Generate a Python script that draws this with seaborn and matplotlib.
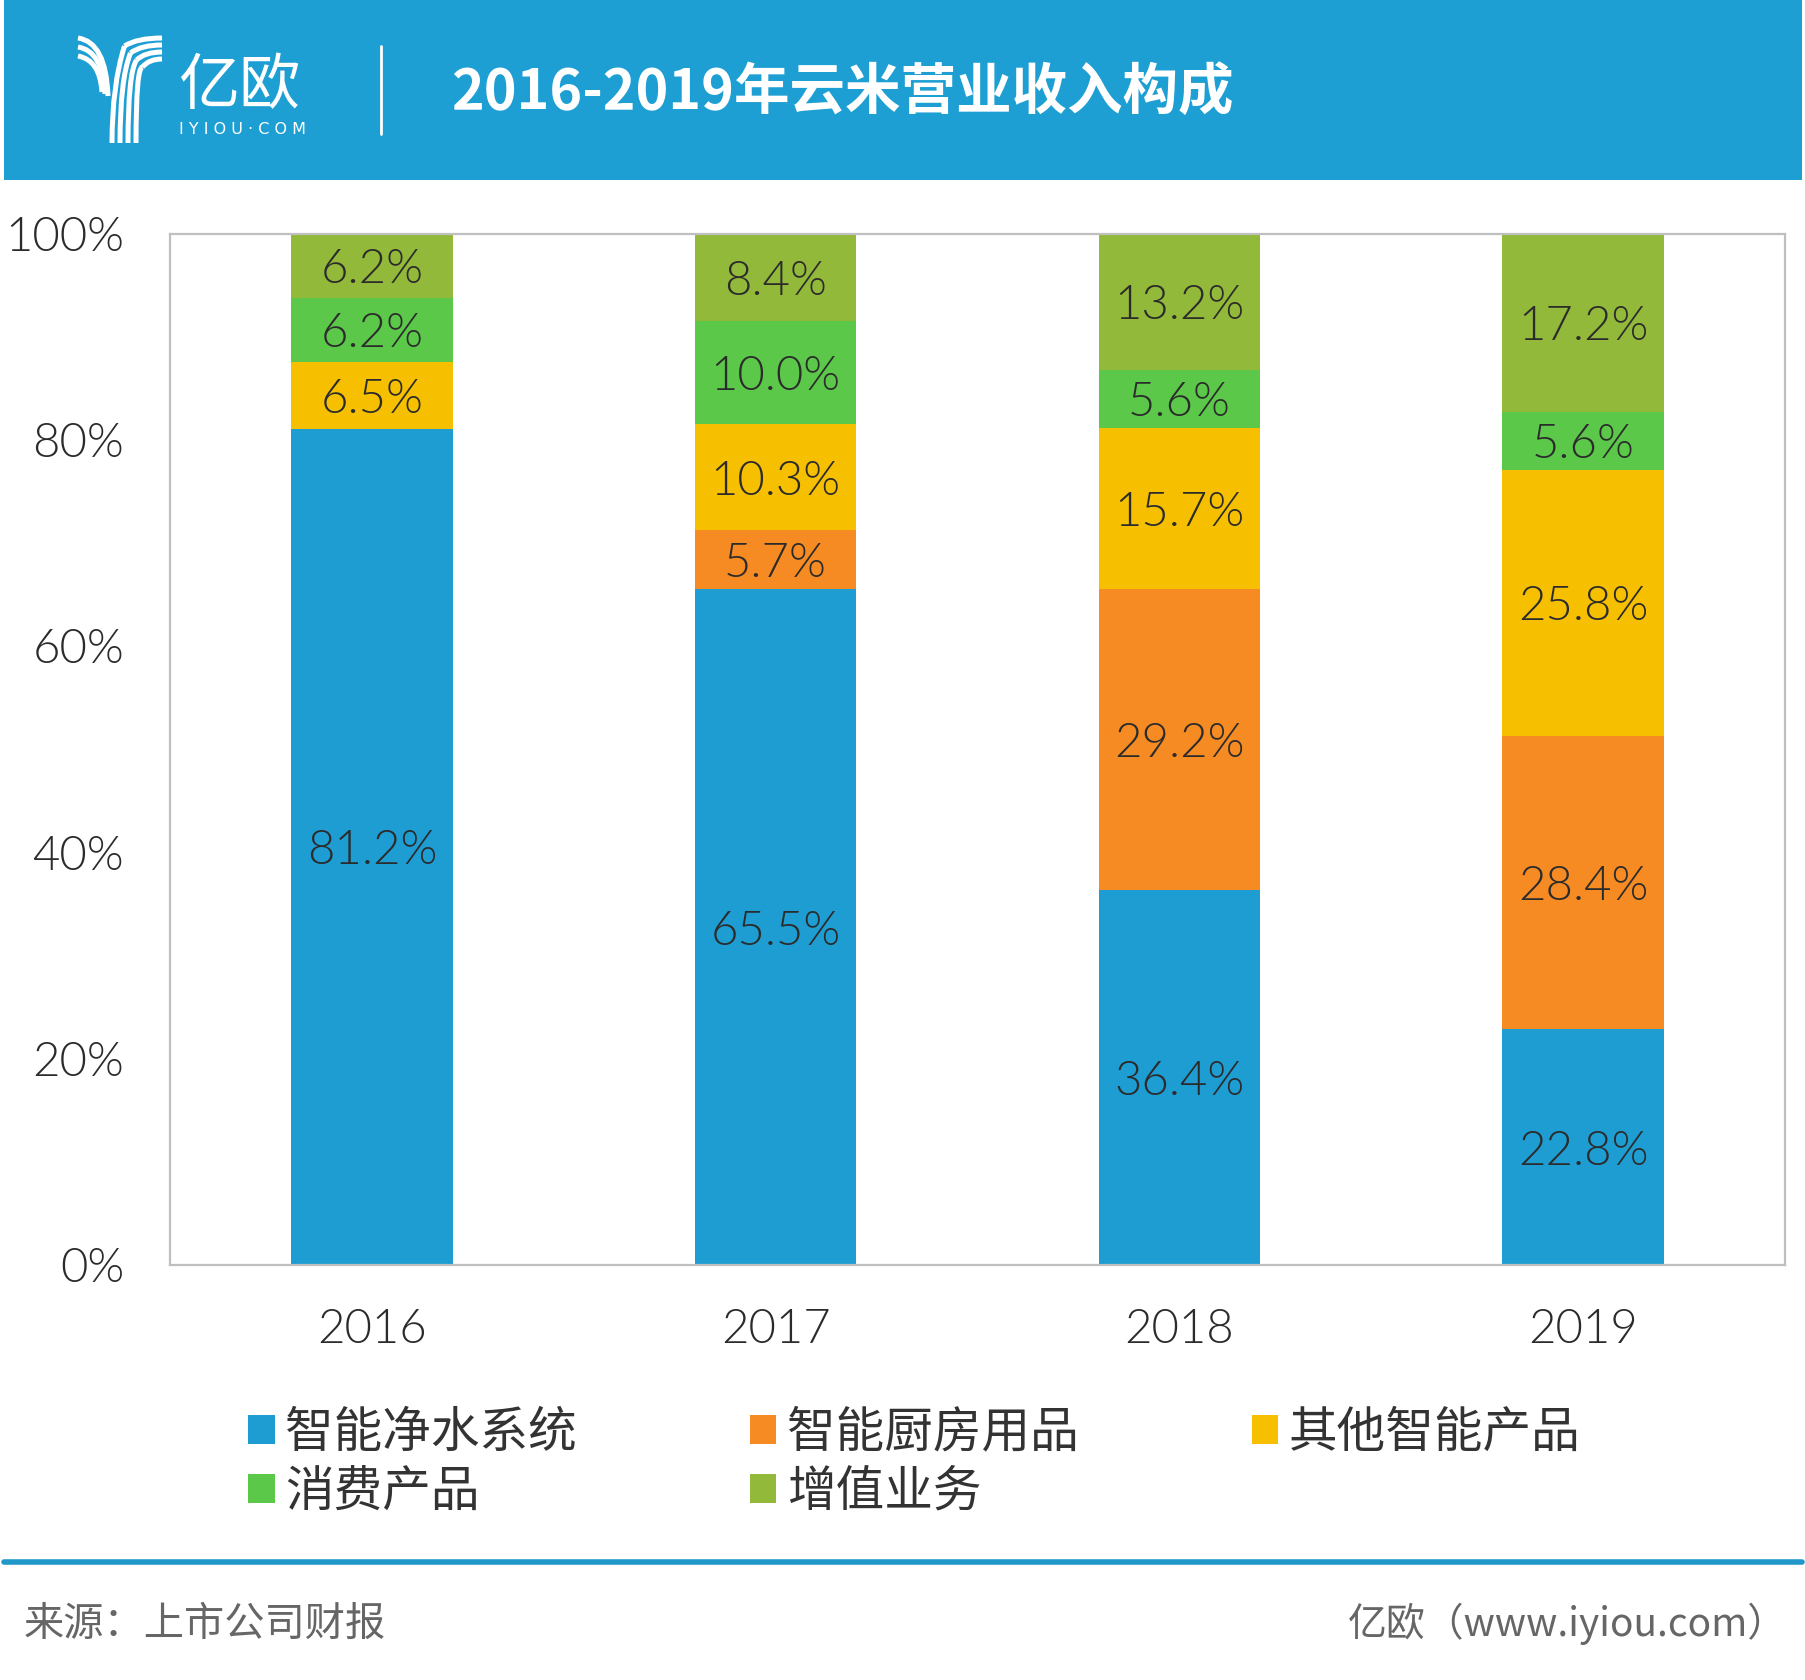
import numpy as np
import pandas as pd
import matplotlib
matplotlib.use("Agg")
import matplotlib.pyplot as plt
from matplotlib.patches import Rectangle, Patch, PathPatch
from matplotlib.path import Path
from matplotlib.lines import Line2D
from matplotlib.ticker import PercentFormatter
from matplotlib.transforms import ScaledTranslation
import seaborn as sns

# ---------------- data ----------------
years = ["2016", "2017", "2018", "2019"]
series_names = ["智能净水系统", "智能厨房用品", "其他智能产品", "消费产品", "增值业务"]
water = [81.2, 65.5, 36.4, 22.8]
kitchen = [0.0, 5.7, 29.2, 28.4]
other_smart = [6.5, 10.3, 15.7, 25.8]
consumer = [6.2, 10.0, 5.6, 5.6]
value_added = [6.2, 8.4, 13.2, 17.2]
colors = ["#1e9dd3", "#f68b24", "#f6c000", "#5cc84a", "#93b93a"]
yticks = [0, 20, 40, 60, 80, 100]
title = "2016-2019年云米营业收入构成"
source = "来源：上市公司财报"
credit = "亿欧（www.iyiou.com）"

# ---------------- style ----------------
sns.set_theme(style="white")
plt.rcParams["font.family"] = ["Noto Sans CJK SC", "DejaVu Sans"]
NUM_FONT = ["Lato", "Noto Sans CJK SC", "DejaVu Sans"]
NUM_WEIGHT = 300

W, H = 1806, 1680
fig = plt.figure(figsize=(W / 100, H / 100), dpi=100)
fig.patch.set_facecolor("white")


def fx(px):
    return px / W


def fy(py):
    return 1 - py / H


# header band
fig.patches.append(Rectangle((fx(4), fy(180)), fx(1798), 180 / H,
                             transform=fig.transFigure, facecolor="#1e9fd4",
                             edgecolor="none", zorder=0))

# logo: stylised Y made of white stripes
def curve(pts, lw=3.6):
    verts = [(fx(x), fy(y)) for x, y in pts]
    codes = [Path.MOVETO] + [Path.CURVE3] * (len(verts) - 1)
    fig.patches.append(PathPatch(Path(verts, codes), transform=fig.transFigure,
                                 facecolor="none", edgecolor="white", lw=lw,
                                 capstyle="butt", zorder=3))

stem_x = [112, 120, 128, 136]
for i, sx in enumerate(stem_x):
    top_y = 38 + i * 7
    bend = 95 - i * 6
    curve([(sx, 143), (sx, bend - 10), (sx + (162 - sx) * 0.25, top_y + 8)])
    curve([(sx + (162 - sx) * 0.25, top_y + 8), (sx + (162 - sx) * 0.5, top_y),
           (162, top_y)])
for i in range(3):
    ly = 38 + i * 9
    ex = 108 - i * 3
    curve([(78, ly), (ex - 2, ly + 4), (ex, 96 - i * 2)])

fig.text(fx(239), fy(87), "亿欧", color="white", fontsize=44,
         ha="center", va="center")
fig.text(fx(243), fy(129), "I Y I O U · C O M", color="white", fontsize=11.5,
         ha="center", va="center", family=["DejaVu Sans"])
fig.add_artist(Line2D([fx(381), fx(381)], [fy(46), fy(134)], color="white",
                      lw=2, transform=fig.transFigure))
fig.text(fx(451), fy(93), title, color="white", fontsize=40,
         fontweight="bold", ha="left", va="center")

# ---------------- chart ----------------
ax = fig.add_axes([fx(170), fy(1265), fx(1785 - 170), (1265 - 234) / H])
data = np.array([water, kitchen, other_smart, consumer, value_added])
norm = data / data.sum(axis=0) * 100
cum = norm.cumsum(axis=0)
bottoms = cum - norm

for k in range(len(series_names) - 1, -1, -1):
    df = pd.DataFrame({"year": years, "val": cum[k]})
    sns.barplot(data=df, x="year", y="val", color=colors[k], saturation=1,
                width=0.4, errorbar=None, ax=ax, linewidth=0, zorder=2)

shift = ax.transData + ScaledTranslation(0, -4.5 / 100, fig.dpi_scale_trans)
for k in range(len(series_names)):
    for i in range(len(years)):
        v = data[k, i]
        if v > 0:
            ax.text(i, bottoms[k, i] + norm[k, i] / 2, f"{v:.1f}%",
                    ha="center", va="center", fontsize=34, color="#2b2b2b",
                    fontweight=NUM_WEIGHT, family=NUM_FONT, zorder=5,
                    transform=shift)

ax.set_xlim(-0.5, 3.5)
ax.set_ylim(0, 100)
ax.set_yticks(yticks)
ax.yaxis.set_major_formatter(PercentFormatter(xmax=100, decimals=0))
ax.set_xlabel("")
ax.set_ylabel("")
ax.tick_params(axis="both", length=0, labelsize=34, colors="#2b2b2b")
ax.tick_params(axis="y", pad=33)
ax.tick_params(axis="x", pad=32)
for lab in ax.get_xticklabels() + ax.get_yticklabels():
    lab.set_fontweight(NUM_WEIGHT)
    lab.set_family(NUM_FONT)
for s in ax.spines.values():
    s.set_visible(True)
    s.set_color("#bfbfbf")
    s.set_linewidth(1.6)
ax.grid(False)

# legend
handles = [Patch(facecolor=c, edgecolor="none") for c in colors]
order = [0, 3, 1, 4, 2]
leg = fig.legend([handles[i] for i in order], [series_names[i] for i in order],
                 ncol=3, loc="upper left", bbox_to_anchor=(fx(248), fy(1408)),
                 frameon=False, fontsize=35, handlelength=0.55,
                 handleheight=0.55, handletextpad=0.22, columnspacing=3.55,
                 labelspacing=0.2, borderpad=0, borderaxespad=0)
for t in leg.get_texts():
    t.set_color("#333333")

# footer
fig.add_artist(Line2D([fx(4), fx(1802)], [fy(1562), fy(1562)], color="#2096c9",
                      lw=4, transform=fig.transFigure))
fig.text(fx(24), fy(1624), source, color="#666666", fontsize=29,
         ha="left", va="center")
fig.text(fx(1787), fy(1624), credit, color="#666666", fontsize=28,
         ha="right", va="center")

fig.savefig("out.png", dpi=100, facecolor="white")
